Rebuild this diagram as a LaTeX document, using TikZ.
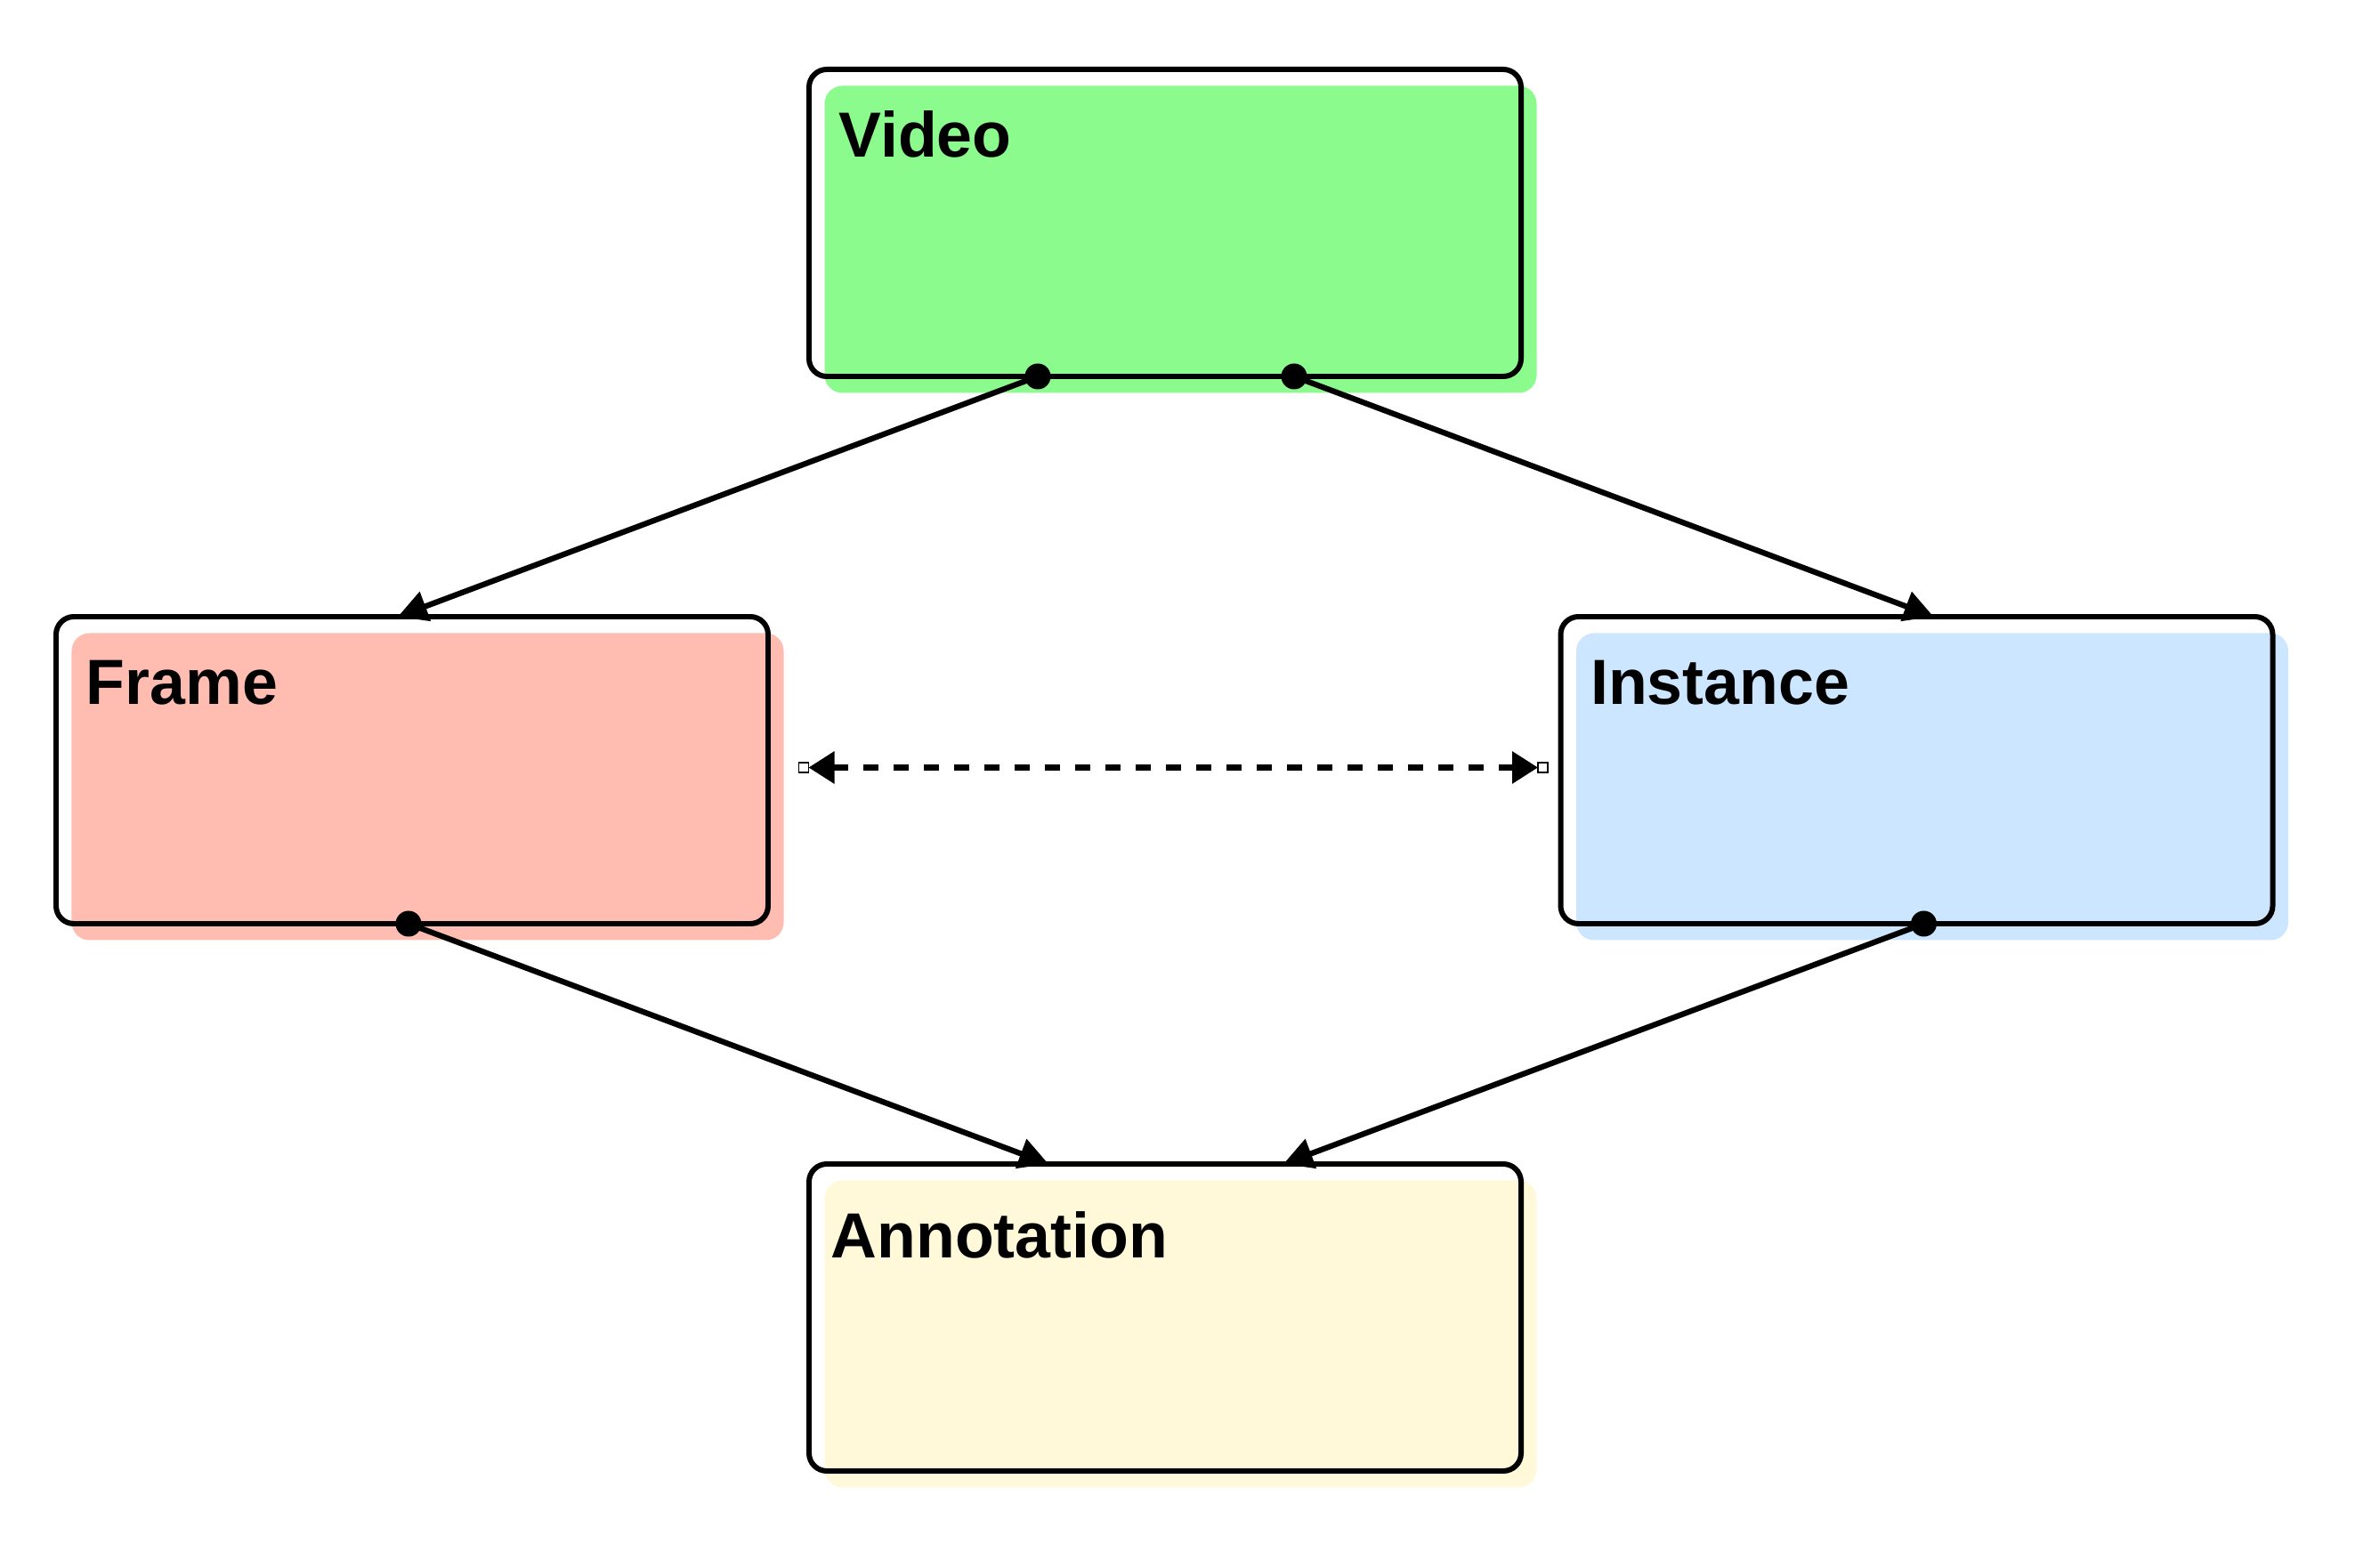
\documentclass[tikz,border=0pt]{standalone}
\usepackage{fontspec}
\setmainfont{Liberation Sans}
\usepackage{xcolor}
\definecolor{videogreen}{HTML}{8CFB8E}
\definecolor{framered}{HTML}{FFBCB1}
\definecolor{instblue}{HTML}{CCE6FF}
\definecolor{annoyellow}{HTML}{FFF9DA}
\usetikzlibrary{arrows.meta, positioning, calc, shadows}
\tikzset{
  ebox/.style ={rectangle, rounded corners=0.2cm, draw=black, line width=1.7pt, minimum width=8cm,
                minimum height=3.45cm, outer sep=0pt, inner sep=0pt},
  eboxg/.style={ebox, general shadow={fill=videogreen, shadow xshift=0.175cm, shadow yshift=-0.185cm}},
  eboxr/.style={ebox, general shadow={fill=framered, shadow xshift=0.175cm, shadow yshift=-0.185cm}},
  eboxb/.style={ebox, general shadow={fill=instblue, shadow xshift=0.175cm, shadow yshift=-0.185cm}},
  eboxy/.style={ebox, general shadow={fill=annoyellow, shadow xshift=0.175cm, shadow yshift=-0.185cm}},
  elbl/.style ={anchor=base west, xshift=0.33cm, yshift=-0.99cm, inner sep=0pt, font=\fontsize{20.4}{24}\selectfont\bfseries},
  earr/.style ={-{Triangle[length=0.33cm, width=0.34cm]}, line width=1.8pt, color=black},
  edash/.style={{Triangle[length=0.29cm, width=0.35cm]}-{Triangle[length=0.29cm, width=0.35cm]}, line width=1.8pt,
                dash pattern=on 0.17cm off 0.17cm, color=black},
  ehandle/.style={rectangle, draw=black, fill=white, line width=0.4pt, minimum size=0.11cm, inner sep=0pt, outer sep=0pt},
}

\begin{document}
\begin{tikzpicture}
  \useasboundingbox (0,0) rectangle (26.46,-17.62);
  \node[eboxg, label={[elbl]north west:Video}] (video) at (13.09,-2.505) {};
  \node[eboxr, below=2.7cm of video, xshift=-8.46cm, label={[elbl]north west:Frame}] (frame) {};
  \node[eboxb, below=2.7cm of video, xshift=8.445cm, label={[elbl]north west:Instance}] (instance) {};
  \node[eboxy, below=2.7cm of frame, xshift=8.46cm,
        label={[elbl, xshift=-0.09cm, yshift=-0.07cm]north west:Annotation}] (annotation) {};
  % connection points
  \coordinate (vdotl) at ($(video.south)+(-1.43,0)$);
  \coordinate (vdotr) at ($(video.south)+(1.45,0)$);
  \coordinate (fdot) at ($(frame.south)+(-0.04,0)$);
  \coordinate (idot) at ($(instance.south)+(0.08,0)$);
  \coordinate (ftop) at ($(frame.north)+(-0.16,0)$);
  \coordinate (itop) at ($(instance.north)+(0.19,0)$);
  \coordinate (atopl) at ($(annotation.north)+(-1.31,0)$);
  \coordinate (atopr) at ($(annotation.north)+(1.33,0)$);
  \node[ehandle, right=0.345cm of frame, yshift=0.03cm] (fhandle) {};
  \node[ehandle, left=0.145cm of instance, yshift=0.03cm] (ihandle) {};
  \draw[earr] (vdotl) -- (ftop); \draw[earr] (vdotr) -- (itop);
  \draw[earr] (fdot) -- (atopl); \draw[earr] (idot) -- (atopr);
  \draw[edash] (fhandle) -- (ihandle);
  \foreach \p in {vdotl, vdotr, fdot, idot} \fill (\p) circle (0.145cm);
\end{tikzpicture}
\end{document}
